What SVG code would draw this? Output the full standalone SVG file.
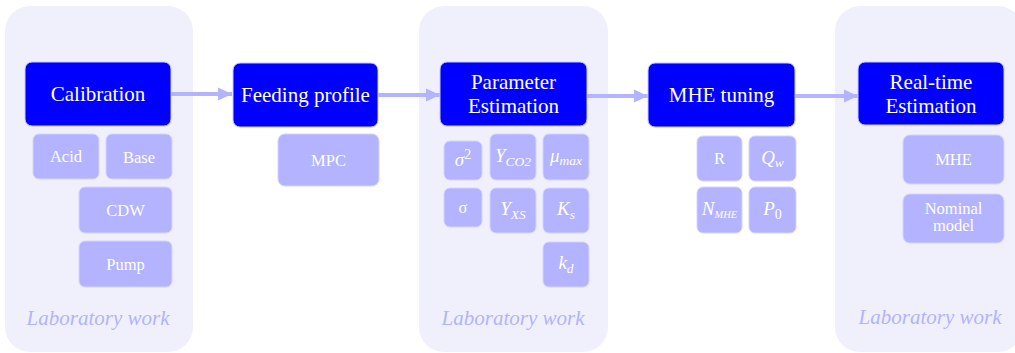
<svg xmlns="http://www.w3.org/2000/svg" width="1015" height="353" viewBox="0 0 1015 353">
<defs>
<marker id="ah" markerUnits="userSpaceOnUse" markerWidth="15" markerHeight="14" refX="14" refY="7" orient="auto">
<path d="M0,0.5 L14,7 L0,13.5 Z" fill="#b3b3ff"/>
</marker>
<style>
.panel{fill:#f0f0fc}
.main{fill:#0000ff;stroke:#c8c8ff;stroke-width:1}
.sub{fill:#b3b3ff;stroke:#d4d4ff;stroke-width:1}
.mt{font-family:"Liberation Serif",serif;font-size:21px;fill:#ffffff;text-anchor:middle}
.st{font-family:"Liberation Serif",serif;font-size:16.5px;fill:#ffffff;text-anchor:middle}
.mth{font-family:"Liberation Serif",serif;font-size:19px;font-style:italic;fill:#ffffff;text-anchor:middle}
.lab{font-family:"Liberation Serif",serif;font-size:21px;font-style:italic;fill:#b3b3ff;text-anchor:middle}
.conn{stroke:#b3b3ff;stroke-width:4;fill:none;marker-end:url(#ah)}
</style>
</defs>
<g id="panel1"><rect class="panel" x="5" y="6" width="188" height="346" rx="25"/><text class="lab" x="98" y="325">Laboratory work</text></g>
<g id="panel2"><rect class="panel" x="419" y="6" width="189" height="346" rx="25"/><text class="lab" x="513" y="325">Laboratory work</text></g>
<g id="panel3"><rect class="panel" x="835" y="6" width="188" height="346" rx="25"/><text class="lab" x="930" y="324">Laboratory work</text></g>

<g id="connectors">
<line class="conn" x1="171" y1="94" x2="232" y2="94"/>
<line class="conn" x1="378" y1="95" x2="440" y2="95"/>
<line class="conn" x1="587" y1="96" x2="648" y2="96"/>
<line class="conn" x1="795" y1="96" x2="858" y2="96"/>
</g>

<g id="calibration"><rect class="main" x="25" y="62" width="146" height="64" rx="7"/><text class="mt" x="98" y="101">Calibration</text></g>
<g id="acid"><rect class="sub" x="33" y="134" width="66" height="45" rx="6"/><text class="st" x="66" y="162">Acid</text></g>
<g id="base"><rect class="sub" x="106" y="134" width="66" height="45" rx="6"/><text class="st" x="139" y="163">Base</text></g>
<g id="cdw"><rect class="sub" x="79" y="187" width="93" height="46" rx="6"/><text class="st" x="125.5" y="216">CDW</text></g>
<g id="pump"><rect class="sub" x="79" y="241" width="93" height="46" rx="6"/><text class="st" x="125.5" y="270">Pump</text></g>

<g id="feeding"><rect class="main" x="233" y="63" width="145" height="64" rx="7"/><text class="mt" x="305.5" y="102">Feeding profile</text></g>
<g id="mpc"><rect class="sub" x="278" y="134" width="101" height="52" rx="7"/><text class="st" x="328.5" y="166">MPC</text></g>

<g id="paramest"><rect class="main" x="440" y="62" width="147" height="64" rx="7"/><text class="mt" x="513.5" y="89">Parameter</text><text class="mt" x="513.5" y="113">Estimation</text></g>
<g id="sigma2"><rect class="sub" x="444" y="141" width="38" height="39" rx="6"/><text class="mth" x="463" y="166">σ<tspan font-style="normal" font-size="14" dy="-7">2</tspan></text></g>
<g id="yco2"><rect class="sub" x="490" y="134" width="46" height="46" rx="6"/><text class="mth" x="513" y="162">Y<tspan font-size="13.5" dy="4">CO2</tspan></text></g>
<g id="mumax"><rect class="sub" x="543" y="134" width="46" height="46" rx="6"/><text class="mth" x="566" y="162">μ<tspan font-size="13.5" dy="3">max</tspan></text></g>
<g id="sigma"><rect class="sub" x="444" y="188" width="38" height="39" rx="6"/><text class="st" x="463" y="213">σ</text></g>
<g id="yxs"><rect class="sub" x="490" y="188" width="46" height="45" rx="6"/><text class="mth" x="513" y="215">Y<tspan font-size="13.5" dy="4">XS</tspan></text></g>
<g id="ks"><rect class="sub" x="543" y="188" width="46" height="45" rx="6"/><text class="mth" x="566" y="215">K<tspan font-size="13.5" dy="4">s</tspan></text></g>
<g id="kd"><rect class="sub" x="543" y="242" width="46" height="45" rx="6"/><text class="mth" x="566" y="269">k<tspan font-size="13.5" dy="4">d</tspan></text></g>

<g id="mhetuning"><rect class="main" x="648" y="63" width="147" height="64" rx="7"/><text class="mt" x="721.5" y="102">MHE tuning</text></g>
<g id="r"><rect class="sub" x="697" y="136" width="45" height="45" rx="6"/><text class="st" x="719.5" y="164">R</text></g>
<g id="qw"><rect class="sub" x="749" y="136" width="47" height="45" rx="6"/><text class="mth" x="772.5" y="164">Q<tspan font-size="13.5" dy="3">w</tspan></text></g>
<g id="nmhe"><rect class="sub" x="697" y="187" width="45" height="46" rx="6"/><text class="mth" x="719.5" y="215" font-size="15">N<tspan font-size="10.5" dy="3">MHE</tspan></text></g>
<g id="p0"><rect class="sub" x="749" y="187" width="47" height="46" rx="6"/><text class="mth" x="772.5" y="215">P<tspan font-style="normal" font-size="14" dy="4">0</tspan></text></g>

<g id="realtime"><rect class="main" x="858" y="62" width="146" height="63" rx="7"/><text class="mt" x="931" y="89">Real-time</text><text class="mt" x="931" y="113">Estimation</text></g>
<g id="mhe"><rect class="sub" x="903" y="135" width="101" height="49" rx="7"/><text class="st" x="953.5" y="165">MHE</text></g>
<g id="nominal"><rect class="sub" x="903" y="194" width="101" height="49" rx="7"/><text class="st" x="953.5" y="214" font-size="15">Nominal</text><text class="st" x="953.5" y="231" font-size="15">model</text></g>
</svg>
